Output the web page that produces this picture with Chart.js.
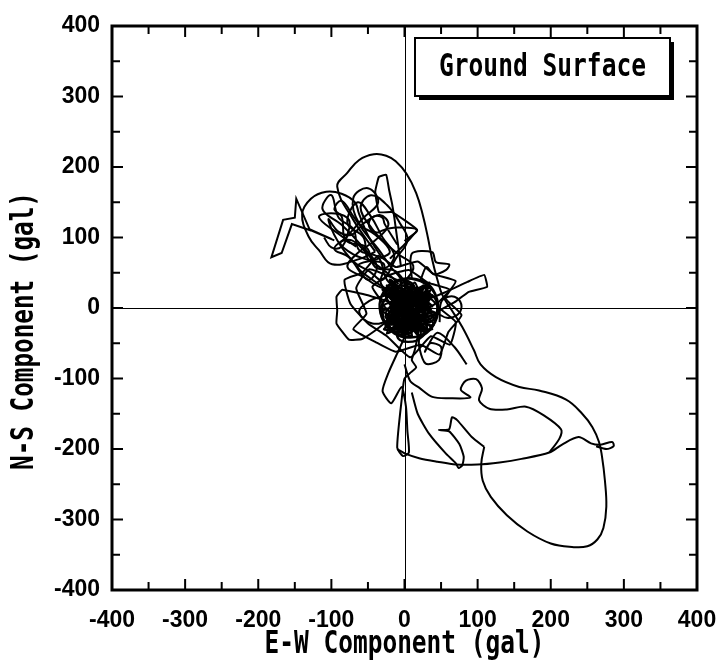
<!DOCTYPE html>
<html>
<head>
<meta charset="utf-8">
<title>Ground Surface orbit</title>
<script src="https://cdn.jsdelivr.net/npm/chart.js@4.4.1/dist/chart.umd.min.js"></script>
<style>
  html, body { margin: 0; padding: 0; background: #fff; }
  canvas { display: block; }
</style>
</head>
<body>
<canvas id="orbit" width="717" height="661"></canvas>
<script>
// E-W (x) / N-S (y) acceleration orbit, gal.
const xTitle = 'E-W Component (gal)';
const yTitle = 'N-S Component (gal)';
const boxLabel = 'Ground Surface';
const axisMin = -400;
const axisMax = 400;
const labelStep = 100;

// the dense black core: many chords back and forth across it
const knot = [
  [5,0],[-18,22],[30,18],[-12,-30],[28,-28],[-22,8],[38,2],[-4,32],[10,-40],[-26,-12],[34,24],[16,-34],
  [-20,28],[40,-12],[-8,-24],[22,30],[-24,-20],[36,-6],[0,34],[18,-38],[-16,14],[32,-24],[-10,-6],
  [26,20],[-28,4],[12,-30],[30,10],[-14,30],[24,-16],[-20,-32],[38,18],[2,-20],[-18,-2],[20,24],
  [8,-36],[-26,18],[34,-20],[-6,12],[16,-10],[-12,26],[28,-6],[-22,-24],[14,36],[30,-34],[-30,-4],
  [20,6],[-2,-40],[-10,20],[36,28],[6,-14],[-24,32],[26,-30],[-16,-16],[42,6],[-6,40],[12,-26],
  [-28,-30],[24,14],[4,-6],[-14,-28],[32,30],[-20,16],[18,-22],[-4,24],[40,-24],[-26,-8],[10,28],
  [22,-40],[-12,4],[34,12],[-8,-34],[14,18],[-30,26],[28,-14],[-2,6],[20,-30],[-18,34],[36,-2],
  [0,-26],[-22,-14],[26,32],[8,-18],[-16,8],[30,-10],[-4,-38],[16,22],[-26,-26],[38,-30],[-10,14],
  [22,0],[-20,40],[6,-32],[34,36],[-14,-10],[18,10],[-28,20],[44,-8],[-2,-16],[12,32],[-24,-36],
  [30,4],[0,20],[20,-20],[-8,0]
];

// small round loops inside the core
const knotLoops = [
  [10,-5],[25,8],[20,25],[2,28],[-12,15],[-10,-5],[5,-18],[22,-20],[32,-5],[28,15],[12,20],[-5,10],
  [-20,-5],[-22,-25],[-5,-35],[15,-30],[20,-12],[5,-2],[-15,10],[-25,25],[-10,38],[10,35],[18,18],
  [35,20],[45,0],[35,-20],[15,-15],[0,-20],[-10,-40],[5,-48],[25,-40],[30,-25],[10,0],[-5,20],
  [-28,10],[-30,-15],[-15,-20],[0,0]
];

// the rounded edge of the core
const knotRim = [
  [-30,10],[-28,-18],[-14,-36],[8,-42],[30,-34],[44,-12],[44,14],[32,34],[10,42],[-12,38],[-28,24],
  [-34,0],[-24,-26],[0,-40],[26,-38],[42,-20],[46,6],[36,28],[16,40],[-8,40],[-26,28]
];

const fringe = [
  [-10,40],[-48,55],[-66,28],[-52,-8],[-70,-30],[-40,-48],[-12,-62],[22,-52],[48,-66],[60,-34],
  [78,-10],[56,14],[70,38],[40,48],[18,66],[-12,58],[-36,74],[-58,50],[-82,40],[-74,6],[-50,-22],
  [-24,-40],[8,-70],[36,-40],[62,-52],[70,-20],[44,4],[62,26],[32,36],[6,54],[-22,46],[-44,30],[-30,8]
];

const westWeb = [
  [10,20],[-12,52],[-40,58],[-52,86],[-80,96],[-86,130],[-96,140],[-86,152],[-70,130],[-52,104],
  [-36,84],[-20,60],[-4,36],[-28,28],[-56,44],[-78,58],[-64,78],[-40,96],[-22,118],[-34,132],
  [-56,120],[-72,104],[-90,108],[-104,126],[-92,96],[-70,66],[-48,52],[-30,40],[-12,70],[4,96],
  [-6,120],[-24,146],[-46,160],[-60,142],[-44,112],[-26,92],[-8,76],[12,60],[2,40],[-22,20],
  [-48,10],[-62,-6],[-44,-22],[-20,-16],[0,4]
];

const nwStrands = [
  [0,20],[-24,40],[-36,72],[-62,82],[-70,112],[-90,128],[-100,160],[-112,140],[-86,118],[-60,90],
  [-38,60],[-50,40],[-76,72],[-96,84],[-80,100],[-56,128],[-36,150],[-50,170],[-70,156],[-62,120],
  [-40,104],[-20,80],[-36,70],[-64,60],[-44,40],[-20,24]
];

const nwStrands2 = [
  [-5,10],[-32,34],[-28,62],[-50,70],[-56,100],[-78,120],[-64,150],[-46,130],[-30,100],[-14,74],
  [-30,56],[-52,78],[-72,96],[-88,92],[-70,76],[-46,66],[-24,50],[-8,34]
];

const nwCircle = [
  [-40,80],[-60,70],[-99,62],[-117,82],[-131,101],[-140,133],[-128,155],[-107,165],[-86,162],
  [-68,150],[-62,133],[-49,101],[-30,70]
];

const innerEllipse = [
  [-66,87],[-90,105],[-117,129],[-95,134],[-76,125],[-78,104],[-86,87],[-100,86],[-110,100]
];

const lozenge = [
  [-100,98],[-130,112],[-148,155],[-150,128],[-166,125],[-182,72],[-168,78],[-154,119],[-128,110],[-96,96]
];

const ring = [
  [-10,90],[-27,119],[-30,128],[-38,131],[-46,127],[-49,119],[-46,111],[-38,107],[-30,110],[-15,114],[17,111],[0,95]
];

const tallPoly = [
  [-5,60],[-14,129],[-17,148],[-21,167],[-25,189],[-35,186],[-40,165],[-35,136],[-17,136],[17,111],[0,90],[-20,70]
];

const eastLobe = [[25,10],[55,22],[86,37],[109,47],[113,30],[88,23],[68,8],[45,-5]];
const eastRing = [[30,-6],[45,-8],[58,-14],[72,-10],[78,2],[72,14],[60,16],[50,8],[48,-20]];
const neLoops = [[10,40],[10,77],[38,79],[43,65],[61,62],[57,54],[40,48],[30,58],[22,40]];
const westLobe = [[-10,5],[-50,18],[-85,26],[-93,16],[-92,-4],[-93,-22],[-76,-45],[-58,-44],[-40,-32],[-18,-14]];

const outerArc = [
  [-40,80],[-70,125],[-92,172],[-78,192],[-62,210],[-42,218],[-25,216],[-12,208],[3,190],[16,163],
  [25,132],[32,100],[38,68],[45,40],[52,18],[64,-2],[79,-27],[95,-60],[104,-80],[125,-98],[157,-112],
  [184,-117],[221,-130],[243,-150],[257,-169],[266,-190],[270,-210],[274,-244],[276,-282],[272,-312],
  [264,-328],[250,-338],[229,-339],[200,-334],[168,-317],[140,-294],[118,-268],[107,-245],[105,-221],
  [109,-197]
];

const hand = [
  [109,-197],[92,-183],[72,-159],[65,-155],[61,-172],[47,-173],[61,-175],[75,-193],[81,-211],
  [79,-223],[74,-227],[70,-220],[57,-207],[34,-179],[18,-150],[10,-120]
];

const floorLine = [
  [-10,-200],[2,-207],[20,-213],[45,-218],[70,-222],[100,-222],[130,-219],[160,-214],[198,-205],
  [215,-194],[238,-183],[255,-192],[268,-194],[284,-190],[286,-196],[276,-200],[262,-196]
];

const midLine = [
  [198,-205],[212,-185],[214,-172],[190,-152],[166,-140],[140,-144],[116,-143],[102,-131],[106,-114],
  [98,-101],[84,-103],[77,-116],[90,-127],[60,-128],[38,-126],[20,-113],[8,-104],[0,-80]
];

const southStrands = [
  [5,-30],[-8,-60],[-22,-92],[-30,-118],[-18,-135],[-4,-112],[2,-140],[4,-175],[6,-205],[-2,-210],
  [-10,-198],[-3,-122],[0,-100],[9,-91],[16,-84],[10,-74],[14,-60],[20,-30]
];

const seLoop = [[20,-40],[20,-55],[29,-79],[47,-74],[50,-55],[35,-50],[28,-62],[45,-35],[68,-55],[85,-80]];

const paths = [
  { pts: knot, tension: 0.15, width: 2.4 },
  { pts: knotLoops, tension: 0.5, width: 2.4 },
  { pts: knotRim, tension: 0.4, width: 2.4 },
  { pts: fringe, tension: 0.15 },
  { pts: westWeb, tension: 0.4 },
  { pts: nwStrands, tension: 0.4 },
  { pts: nwStrands2, tension: 0.4 },
  { pts: nwCircle, tension: 0.4 },
  { pts: innerEllipse, tension: 0.4 },
  { pts: lozenge, tension: 0 },
  { pts: ring, tension: 0.4 },
  { pts: tallPoly, tension: 0.1 },
  { pts: eastLobe, tension: 0.1 },
  { pts: eastRing, tension: 0.4 },
  { pts: neLoops, tension: 0.3 },
  { pts: westLobe, tension: 0.1 },
  { pts: outerArc, tension: 0.4 },
  { pts: hand, tension: 0.2 },
  { pts: floorLine, tension: 0.3 },
  { pts: midLine, tension: 0.3 },
  { pts: southStrands, tension: 0.2 },
  { pts: seLoop, tension: 0.3 }
];

const tickFont = { family: "'Liberation Sans', Arial, sans-serif", size: 23, weight: 'bold' };
const titleFont = "bold 32px 'DejaVu Sans Mono', 'Liberation Mono', monospace";

// squeeze a label to a given width (the original uses a narrow gothic face)
function squeezeText(ctx, text, cx, cy, width, rotate) {
  ctx.save();
  ctx.translate(cx, cy);
  if (rotate) ctx.rotate(-Math.PI / 2);
  ctx.font = titleFont;
  ctx.textAlign = 'center';
  ctx.textBaseline = 'middle';
  const w = ctx.measureText(text).width;
  ctx.scale(width / w, 1);
  ctx.fillStyle = '#000';
  ctx.fillText(text, 0, 0);
  ctx.restore();
}

const framePlugin = {
  id: 'frame',
  beforeDatasetsDraw(chart) {
    const { ctx, chartArea: a, scales: { x, y } } = chart;
    const x0 = Math.round(x.getPixelForValue(0)) + 0.5;
    const y0 = Math.round(y.getPixelForValue(0)) + 0.5;
    ctx.save();
    ctx.strokeStyle = '#000';
    ctx.lineWidth = 1;
    ctx.beginPath();
    ctx.moveTo(x0, a.top); ctx.lineTo(x0, a.bottom);
    ctx.moveTo(a.left, y0); ctx.lineTo(a.right, y0);
    ctx.stroke();
    ctx.restore();
  },
  afterDraw(chart) {
    const { ctx, chartArea: a, scales: { x, y } } = chart;
    ctx.save();
    ctx.strokeStyle = '#000';
    ctx.lineWidth = 2;
    // inward tick marks, long at labels, short half way between
    const marks = (scale, cb) => {
      scale.ticks.forEach(t => {
        if (t.value > axisMin && t.value < axisMax) cb(scale.getPixelForValue(t.value), 11);
        if (t.value > axisMin) cb(scale.getPixelForValue(t.value - labelStep / 2), 8);
      });
    };
    ctx.beginPath();
    marks(x, (px, len) => {
      ctx.moveTo(px, a.bottom); ctx.lineTo(px, a.bottom - len);
      ctx.moveTo(px, a.top); ctx.lineTo(px, a.top + len);
    });
    marks(y, (py, len) => {
      ctx.moveTo(a.left, py); ctx.lineTo(a.left + len, py);
      ctx.moveTo(a.right, py); ctx.lineTo(a.right - len, py);
    });
    ctx.stroke();
    ctx.lineWidth = 3;
    ctx.strokeRect(a.left, a.top, a.right - a.left, a.bottom - a.top);

    // label box with drop shadow
    const bw = 255, bh = 58;
    const bx = a.right - 27 - bw, by = a.top + 12;
    ctx.fillStyle = '#000';
    ctx.fillRect(bx + 4, by + 4, bw, bh);
    ctx.fillStyle = '#fff';
    ctx.fillRect(bx, by, bw, bh);
    ctx.lineWidth = 2;
    ctx.strokeRect(bx, by, bw, bh);
    ctx.restore();
    squeezeText(ctx, boxLabel, bx + bw / 2, by + bh / 2 + 1, 207, false);

    squeezeText(ctx, xTitle, (a.left + a.right) / 2, a.bottom + 55, 280, false);
    squeezeText(ctx, yTitle, a.left - 87, (a.top + a.bottom) / 2 + 23, 278, true);
  }
};

const axisOpts = (pad, fit) => ({
  type: 'linear',
  min: axisMin,
  max: axisMax,
  ticks: { stepSize: labelStep, padding: pad, color: '#000', font: tickFont, maxRotation: 0, autoSkip: false },
  grid: { display: false, drawTicks: false },
  border: { display: false },
  afterFit: fit
});

new Chart(document.getElementById('orbit'), {
  type: 'scatter',
  data: {
    datasets: paths.map(p => ({
      data: p.pts.map(([x, y]) => ({ x, y })),
      showLine: true,
      tension: p.tension,
      borderColor: '#000',
      borderWidth: p.width || 2,
      pointRadius: 0,
      fill: false
    }))
  },
  options: {
    responsive: false,
    animation: false,
    devicePixelRatio: 1,
    layout: { padding: { top: 26, right: 20, left: 0, bottom: 0 } },
    plugins: { legend: { display: false }, tooltip: { enabled: false } },
    scales: {
      // the end labels may hang over the frame; do not let them shrink the plot
      x: axisOpts(17, s => { s.height = 71; s.paddingLeft = 0; s.paddingRight = 0; }),
      y: axisOpts(12, s => { s.width = 112; s.paddingTop = 0; s.paddingBottom = 0; })
    }
  },
  plugins: [framePlugin]
});
</script>
</body>
</html>
